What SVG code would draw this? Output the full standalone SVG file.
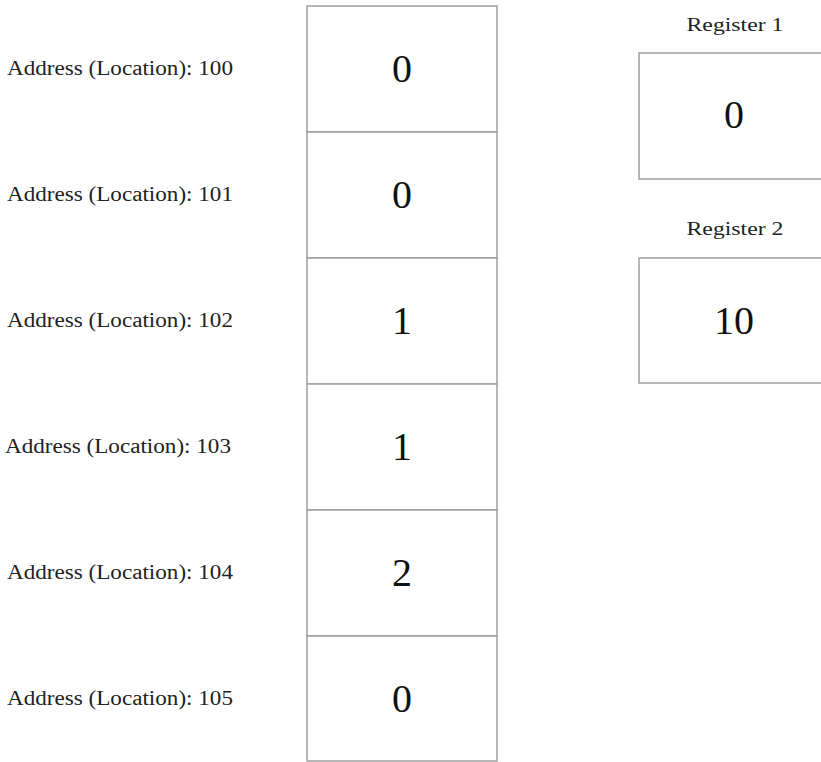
<svg xmlns="http://www.w3.org/2000/svg" width="821" height="762" viewBox="0 0 821 762">
<style>
.box{fill:#fff;stroke:#a0a0a0;stroke-width:1.5}
.addr{font-family:"Liberation Serif","DejaVu Serif",serif;font-size:20px;fill:#222}
.val{font-family:"Liberation Serif","DejaVu Serif",serif;font-size:40px;fill:#111;text-anchor:middle}
.reg{font-family:"Liberation Serif","DejaVu Serif",serif;font-size:19px;fill:#222;text-anchor:middle}
</style>
<rect width="821" height="762" fill="#fff"/>
<g id="mem100"><rect class="box" x="307" y="6" width="190" height="126"/><text class="val" x="402" y="82">0</text><text class="addr" x="7" y="75" textLength="226" lengthAdjust="spacingAndGlyphs">Address (Location): 100</text></g>
<g id="mem101"><rect class="box" x="307" y="132" width="190" height="126"/><text class="val" x="402" y="208">0</text><text class="addr" x="7" y="201" textLength="226" lengthAdjust="spacingAndGlyphs">Address (Location): 101</text></g>
<g id="mem102"><rect class="box" x="307" y="258" width="190" height="126"/><text class="val" x="402" y="334">1</text><text class="addr" x="7" y="327" textLength="226" lengthAdjust="spacingAndGlyphs">Address (Location): 102</text></g>
<g id="mem103"><rect class="box" x="307" y="384" width="190" height="126"/><text class="val" x="402" y="460">1</text><text class="addr" x="5" y="453" textLength="226" lengthAdjust="spacingAndGlyphs">Address (Location): 103</text></g>
<g id="mem104"><rect class="box" x="307" y="510" width="190" height="126"/><text class="val" x="402" y="586">2</text><text class="addr" x="7" y="579" textLength="226" lengthAdjust="spacingAndGlyphs">Address (Location): 104</text></g>
<g id="mem105"><rect class="box" x="307" y="636" width="190" height="125"/><text class="val" x="402" y="712">0</text><text class="addr" x="7" y="705" textLength="226" lengthAdjust="spacingAndGlyphs">Address (Location): 105</text></g>
<g id="reg1"><text class="reg" x="735" y="31" textLength="97" lengthAdjust="spacingAndGlyphs">Register 1</text><rect class="box" x="639" y="53" width="200" height="126"/><text class="val" x="734" y="128">0</text></g>
<g id="reg2"><text class="reg" x="735" y="235" textLength="97" lengthAdjust="spacingAndGlyphs">Register 2</text><rect class="box" x="639" y="258" width="200" height="125"/><text class="val" x="734" y="334">10</text></g>
<g id="connectors"/>
</svg>
